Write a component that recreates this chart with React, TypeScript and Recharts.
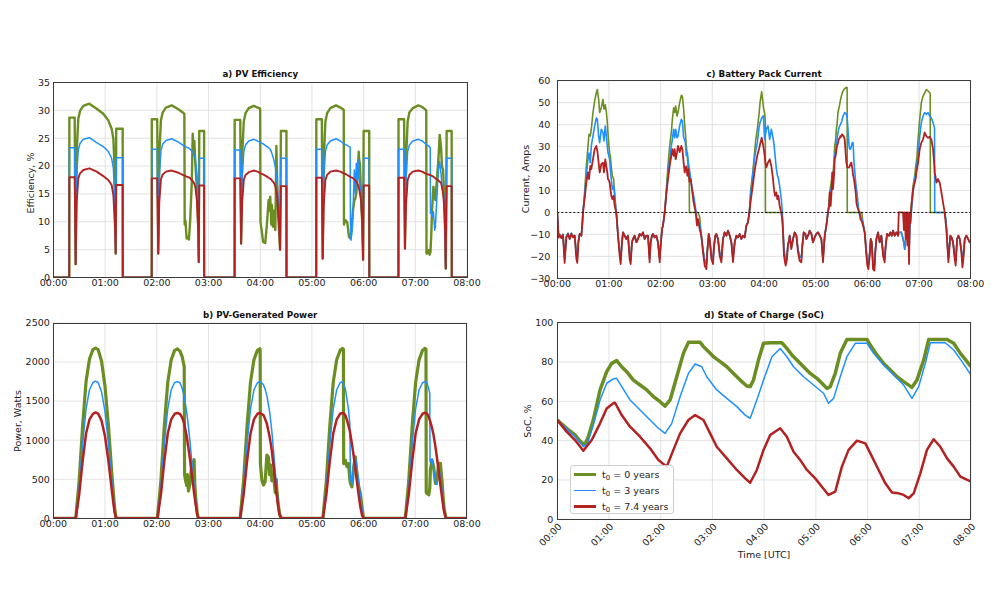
import React from 'react';
import { LineChart, Line, XAxis, YAxis, CartesianGrid, ReferenceLine } from 'recharts';

// ---------- colours / fonts ----------
const GREEN = '#6b8e23';
const BLUE = '#1e90ff';
const RED = '#b22222';
const FONT = '"DejaVu Sans", Verdana, sans-serif';

// ---------- axis ticks ----------
const timeTicks = [0, 60, 120, 180, 240, 300, 360, 420, 480];
const effTicks = [0, 5, 10, 15, 20, 25, 30, 35];
const powTicks = [0, 500, 1000, 1500, 2000, 2500];
const curTicks = [-30, -20, -10, 0, 10, 20, 30, 40, 50, 60];
const socTicks = [0, 20, 40, 60, 80, 100];

const seriesNames = ['t\u2080 = 0 years', 't\u2080 = 3 years', 't\u2080 = 7.4 years'];

// ---------- a) PV efficiency: [minute, t0=0y, t0=3y, t0=7.4y] ----------
const effRows: number[][] = [
  [0, 0, 0, 0], [18.3, 0, 0, 0], [18.4, 28.7, 23.3, 18.0], [24.6, 28.7, 23.3, 18.0],
  [25.7, 2.4, 2.4, 2.4], [26.9, 22.6, 18.4, 13.6], [28.8, 28.5, 22.9, 17.8], [30.8, 29.9, 24.1, 18.7],
  [34.6, 30.8, 24.8, 19.3], [41.6, 31.2, 25.1, 19.6], [50.1, 30.3, 24.2, 19.0], [57.8, 29.4, 23.5, 18.2],
  [63.6, 28.2, 22.6, 17.5], [67.5, 26.7, 21.4, 16.6], [69.5, 24.9, 19.6, 14.8], [71.4, 17.8, 12.0, 8.8],
  [72.2, 4.3, 4.3, 4.3], [72.8, 26.7, 21.5, 16.6], [80.3, 26.7, 21.5, 16.6], [80.4, 0, 0, 0],
  [114.0, 0, 0, 0], [114.1, 28.4, 23.0, 17.8], [120.4, 28.4, 23.0, 17.8], [121.6, 4.3, 4.3, 4.3],
  [122.8, 22.0, 18.0, 13.5], [124.7, 28.2, 22.7, 17.6], [126.7, 29.6, 23.9, 18.5], [130.5, 30.5, 24.6, 19.0],
  [137.2, 30.9, 24.9, 19.2], [145.0, 30.2, 24.3, 18.8], [151.9, 29.4, 23.6, 18.3], [152.3, 9.5, 23.6, 18.3],
  [153.2, 10.2, 23.5, 18.2], [154.5, 7.0, 23.4, 18.1], [156.0, 7.2, 23.3, 18.0], [157.2, 6.8, 23.2, 18.0],
  [158.7, 10.3, 23.0, 17.8], [160.5, 17.0, 22.7, 17.5], [161.6, 25.8, 22.5, 17.3], [162.6, 22.0, 22.2, 17.1],
  [163.5, 24.5, 21.9, 16.8], [164.6, 20.5, 21.3, 16.3], [166.5, 16.0, 18.5, 13.8], [168.0, 9.0, 11.0, 8.5],
  [168.6, 2.8, 2.8, 2.8], [169.2, 26.3, 21.4, 16.5], [174.8, 26.3, 21.4, 16.5], [174.9, 0, 0, 0],
  [210.2, 0, 0, 0], [210.3, 28.3, 22.9, 17.8], [216.8, 28.3, 22.9, 17.8], [217.8, 6.1, 6.1, 6.1],
  [219.0, 22.0, 18.0, 13.5], [220.9, 28.0, 22.6, 17.5], [222.9, 29.5, 23.8, 18.4], [226.7, 30.4, 24.5, 18.9],
  [232.3, 30.8, 24.8, 19.2], [237.0, 30.5, 24.5, 19.0], [239.9, 30.3, 24.2, 18.7], [240.3, 10.0, 24.2, 18.7],
  [241.6, 8.5, 24.1, 18.6], [243.3, 6.4, 24.0, 18.5], [245.8, 6.2, 23.7, 18.3], [247.8, 9.7, 23.5, 18.1],
  [249.7, 13.9, 23.3, 17.9], [250.9, 12.0, 23.1, 17.8], [251.6, 14.5, 23.0, 17.7], [252.8, 9.5, 22.6, 17.6],
  [253.6, 13.0, 22.2, 17.4], [254.7, 9.1, 21.7, 17.2], [256.3, 12.0, 20.8, 16.9], [257.5, 8.5, 19.8, 16.4],
  [258.7, 23.6, 18.4, 15.5], [259.8, 16.3, 16.6, 14.2], [261.0, 10.9, 13.0, 11.5], [262.3, 7.0, 8.5, 7.8],
  [263.0, 5.0, 5.0, 5.0], [264.0, 26.3, 21.4, 16.4], [270.4, 26.3, 21.4, 16.4], [270.5, 0, 0, 0],
  [305.0, 0, 0, 0], [305.1, 28.4, 23.0, 17.9], [311.5, 28.4, 23.0, 17.9], [312.5, 3.4, 3.4, 3.4],
  [313.7, 21.0, 17.5, 13.0], [315.6, 28.0, 22.6, 17.5], [317.6, 29.5, 23.8, 18.4], [321.4, 30.4, 24.5, 19.0],
  [328.0, 30.9, 24.9, 19.2], [333.0, 30.5, 24.5, 19.0], [336.9, 30.1, 24.0, 18.7], [337.2, 9.5, 24.0, 18.7],
  [338.8, 10.3, 23.9, 18.6], [341.0, 9.9, 23.7, 18.4], [343.0, 7.3, 23.5, 18.2], [344.3, 7.1, 23.4, 18.1],
  [344.7, 7.0, 10.0, 18.0], [345.3, 7.5, 6.7, 18.0], [347.0, 10.9, 9.0, 17.9], [347.6, 12.0, 11.5, 17.8],
  [349.2, 13.8, 19.3, 17.6], [350.4, 14.2, 15.0, 17.4], [351.5, 15.1, 20.5, 17.2], [352.7, 17.9, 16.9, 16.9],
  [353.5, 19.5, 21.1, 16.6], [354.3, 22.6, 19.0, 16.2], [354.6, 21.5, 18.1, 16.0], [355.8, 20.2, 16.5, 15.0],
  [357.0, 14.8, 14.5, 13.8], [358.3, 10.0, 9.5, 10.2], [359.4, 3.2, 3.2, 3.2], [360.0, 26.3, 21.4, 16.5],
  [366.5, 26.3, 21.4, 16.5], [366.6, 0, 0, 0], [400.4, 0, 0, 0], [400.5, 28.4, 23.0, 17.9],
  [407.0, 28.4, 23.0, 17.9], [408.0, 5.2, 5.2, 5.2], [409.2, 21.0, 17.5, 13.0], [411.1, 28.0, 22.6, 17.5],
  [413.1, 29.6, 23.8, 18.4], [417.0, 30.4, 24.5, 19.0], [423.5, 30.9, 24.8, 19.2], [428.0, 30.6, 24.5, 19.0],
  [432.7, 30.0, 23.9, 18.6], [433.0, 4.3, 23.8, 18.6], [434.4, 4.4, 23.7, 18.5], [435.5, 4.9, 23.6, 18.5],
  [436.7, 4.1, 23.4, 18.4], [437.3, 4.4, 23.3, 18.4], [437.6, 4.6, 11.5, 18.4], [438.6, 8.0, 11.8, 18.3],
  [439.4, 12.1, 11.0, 18.2], [439.8, 13.0, 10.9, 18.2], [441.0, 16.3, 11.8, 18.1], [442.5, 14.5, 8.5, 17.9],
  [443.3, 13.9, 9.1, 17.8], [445.3, 18.1, 15.1, 17.6], [446.8, 21.1, 19.3, 17.4], [448.3, 25.6, 20.8, 17.2],
  [449.8, 23.5, 18.7, 17.0], [451.0, 19.9, 16.3, 16.2], [452.2, 19.3, 15.5, 15.0], [452.9, 17.0, 15.1, 14.0],
  [453.7, 13.3, 13.0, 12.0], [454.5, 9.0, 10.3, 9.0], [455.3, 1.6, 1.6, 1.6], [456.4, 26.3, 21.4, 16.4],
  [462.2, 26.3, 21.4, 16.4], [462.3, 0, 0, 0], [480, 0, 0, 0],
];

// ---------- b) PV generated power (W) ----------
const powRows: number[][] = [
  [0, 0, 0, 0], [26.0, 0, 0, 0], [30.0, 480, 385, 300], [34.0, 1180, 950, 730], [38.0, 1750, 1400, 1085],
  [42.0, 2040, 1645, 1265], [46.0, 2160, 1738, 1338], [49.0, 2180, 1755, 1355], [52.0, 2160, 1738, 1340],
  [56.0, 2010, 1620, 1250], [60.0, 1690, 1365, 1050], [64.0, 1180, 950, 730], [68.0, 560, 450, 345],
  [71.0, 150, 110, 85], [72.8, 0, 0, 0],
  [120.8, 0, 0, 0], [124.8, 480, 385, 300], [128.8, 1180, 950, 730], [132.8, 1740, 1400, 1085],
  [136.8, 2030, 1645, 1265], [140.8, 2150, 1738, 1338], [144.0, 2168, 1750, 1348], [147.0, 2140, 1735, 1335],
  [149.5, 2070, 1665, 1290], [151.9, 1940, 1560, 1215], [152.3, 560, 1540, 1190], [153.5, 480, 1450, 1120],
  [154.9, 420, 1350, 1040], [155.6, 560, 1290, 990], [156.8, 350, 1170, 900], [158.7, 450, 970, 750],
  [160.7, 700, 730, 565], [161.8, 680, 600, 465], [163.4, 750, 420, 320], [164.2, 420, 330, 255],
  [165.5, 230, 200, 155], [167.0, 70, 60, 45], [168.4, 0, 0, 0],
  [216.8, 0, 0, 0], [220.8, 480, 385, 300], [224.8, 1180, 950, 730], [228.8, 1740, 1400, 1085],
  [232.8, 2030, 1645, 1265], [236.8, 2150, 1735, 1338], [239.5, 2170, 1750, 1348], [240.0, 2160, 1748, 1347],
  [240.3, 700, 1745, 1345], [242.0, 490, 1730, 1335], [243.9, 425, 1710, 1320], [245.8, 470, 1650, 1270],
  [247.8, 810, 1570, 1210], [249.7, 780, 1450, 1110], [250.9, 560, 1370, 1050], [252.4, 680, 1230, 950],
  [253.6, 480, 1110, 860], [255.5, 560, 870, 670], [257.5, 330, 600, 470], [258.7, 500, 450, 350],
  [259.4, 360, 370, 285], [261.0, 180, 190, 150], [262.5, 60, 60, 45], [264.4, 0, 0, 0],
  [312.8, 0, 0, 0], [316.8, 480, 385, 300], [320.8, 1180, 950, 730], [324.8, 1740, 1400, 1085],
  [328.8, 2030, 1645, 1265], [332.8, 2150, 1735, 1338], [335.5, 2175, 1750, 1348], [336.6, 2165, 1730, 1345],
  [336.9, 700, 1710, 1343], [338.8, 745, 1660, 1320], [340.7, 660, 1530, 1260], [342.6, 700, 1380, 1180],
  [344.0, 500, 1220, 1120], [344.8, 447, 520, 1070], [346.5, 404, 430, 950], [348.5, 650, 700, 800],
  [350.4, 787, 790, 640], [352.3, 560, 650, 470], [354.3, 404, 480, 300], [356.2, 320, 300, 150],
  [358.1, 150, 130, 45], [360.0, 0, 0, 0],
  [408.4, 0, 0, 0], [412.4, 480, 385, 300], [416.4, 1180, 950, 730], [420.4, 1740, 1400, 1085],
  [424.4, 2030, 1645, 1265], [428.4, 2150, 1735, 1338], [431.0, 2175, 1750, 1350], [432.4, 2165, 1745, 1348],
  [432.7, 330, 1740, 1346], [433.6, 320, 1730, 1340], [435.6, 300, 1660, 1300], [436.8, 380, 1600, 1255],
  [437.1, 480, 720, 1250], [437.5, 617, 740, 1230], [439.4, 745, 760, 1160], [441.3, 660, 640, 1060],
  [443.3, 447, 470, 920], [445.2, 490, 430, 770], [447.1, 703, 620, 610], [449.1, 703, 560, 430],
  [451.0, 480, 350, 270], [452.5, 250, 200, 150], [453.5, 120, 100, 80], [455.7, 0, 0, 0], [480, 0, 0, 0],
];

// ---------- c) battery pack current (A) ----------
const curRows: number[][] = [
  [0, 0, 0, 0], [1.5, -11, -11, -11.5], [2.7, -10, -10, -10.2], [4.7, -11.5, -11.5, -11.7], [6.6, -10, -10, -10.2],
  [8.5, -21, -21, -23], [10.5, -11, -11, -11.5], [12.4, -9.5, -9.5, -9.8], [14.4, -12, -12, -12.1],
  [16.3, -9.5, -9.5, -9.8], [18.2, -11, -11, -11.4], [20.2, -10.5, -10.5, -10.6], [22.1, -19, -19, -21],
  [23.2, -21, -21, -23], [24.5, -13, -13, -13.6], [26.0, -9.8, -9.8, -9.8], [27.9, -10.6, -10.6, -10.6],
  [29.0, -5.6, -5.6, -5.6], [29.8, 0, 0, 0], [31.7, 9, 7.6, 6], [33.7, 21, 16.7, 13.6], [35.6, 30, 24, 18.2],
  [36.8, 35.6, 27, 15.2], [38.3, 34.8, 22.7, 21.2], [39.5, 37.9, 30.3, 19.7], [41.4, 45.5, 34.8, 24.2],
  [43.4, 50.8, 39.4, 28.8], [45.3, 54.5, 43, 30.3], [46.5, 56, 42.4, 28], [48.0, 51.5, 34.8, 22.7],
  [49.2, 45.5, 31.8, 18.2], [51.1, 47.7, 37.9, 22], [53.0, 51.5, 36.4, 22.7], [54.2, 47, 32.6, 18.2],
  [55.7, 49, 39.4, 24.2], [56.9, 46, 34.8, 21.2], [58.1, 40.9, 30, 18], [58.8, 36, 27.3, 15.2],
  [60.0, 30, 25.5, 14.5], [60.8, 27, 24.2, 13.6], [61.6, 25.8, 20, 11], [62.7, 20.5, 15.2, 7.6],
  [63.9, 16.7, 10.6, 6], [65.4, 15.2, 12.1, 7.6], [66.6, 9.1, 7.6, 3], [67.8, 3, 2, 1], [68.5, 0, 0, 0],
  [70.5, -10.6, -10.6, -10.6], [72.4, -18, -18, -19.7], [73.6, -21.5, -21.5, -23.5], [75.1, -13.6, -13.6, -13.6],
  [76.3, -9.1, -9.1, -9.1], [78.2, -10.6, -10.6, -10.6], [80.1, -12.1, -12.1, -12.1], [82.1, -10.6, -10.6, -10.6],
  [84.0, -19.5, -19.5, -21.2], [85.2, -21.5, -21.5, -23.5], [86.7, -13.6, -13.6, -13.6], [87.9, -12.1, -12.1, -12.1],
  [89.8, -10.6, -10.6, -10.6], [91.8, -13.6, -13.6, -13.6], [93.7, -12.1, -12.1, -12.1], [95.6, -9.8, -9.8, -9.8],
  [97.6, -10.6, -10.6, -10.6], [99.5, -9.1, -9.1, -9.1], [101.4, -12.1, -12.1, -12.1], [103.4, -10.6, -10.6, -10.6],
  [105.3, -10.6, -10.6, -10.6], [107.2, -21, -21, -22.7], [108.4, -13.6, -13.6, -13.6], [109.9, -10.6, -10.6, -10.6],
  [111.1, -9.8, -9.8, -9.8], [113.0, -11.4, -11.4, -11.4], [115.0, -10.6, -10.6, -10.6], [116.9, -13.6, -13.6, -13.6],
  [118.9, -21, -21, -22.7], [120.0, -15.2, -15.2, -15.2], [121.6, -7.6, -7.6, -7.6], [122.7, -6, -6, -6],
  [124.7, 0, 0, 0], [126.6, 10.6, 9, 8.3], [128.5, 21.2, 16.7, 15.2], [130.5, 30.3, 24.2, 21.2],
  [132.4, 36.4, 30.3, 25.8], [133.6, 42.4, 33.3, 28.8], [135.1, 47.7, 37.9, 25.8], [136.3, 45.5, 34, 28.8],
  [137.4, 48.5, 37.9, 24.2], [139.0, 43.9, 34, 27.3], [140.1, 45.5, 34.8, 30.3], [142.1, 50, 39.4, 27.5],
  [144.0, 53.3, 42.4, 30.3], [145.2, 53, 41.7, 28.8], [146.7, 47, 34, 22.7], [147.9, 40, 33, 18.2],
  [148.7, 36.4, 31.8, 20], [149.8, 30.3, 25.8, 21], [151.0, 25.8, 27.3, 16.7], [152.1, 19.7, 22.7, 19.7],
  [153.2, 17, 20.5, 15], [153.4, 0, 19.7, 14], [154.9, 0, 15.2, 15.2], [156.8, 0, 10.6, 9.1],
  [158.3, 0, 7.6, 4.5], [160.7, 0, 1.5, 0], [162.2, 0, -3, -6], [163.4, 0, -4.5, -3], [165.3, -2, -5, -7.6],
  [167.2, -10.6, -10.6, -10.6], [169.2, -17, -17, -18.2], [171.1, -22, -22, -24.2], [173.1, -23.5, -23.5, -25.8],
  [174.2, -17, -17, -18.2], [175.8, -9.8, -9.8, -9.8], [176.9, -12.1, -12.1, -12.1], [178.9, -19.5, -19.5, -21.2],
  [180.8, -21.5, -21.5, -23.5], [182.0, -15.2, -15.2, -15.2], [183.5, -10.6, -10.6, -10.6], [184.7, -9.8, -9.8, -9.8],
  [186.6, -12.1, -12.1, -12.1], [188.5, -18, -18, -19.7], [190.5, -21, -21, -22.7], [192.4, -12.1, -12.1, -12.1],
  [194.3, -9.1, -9.1, -9.1], [196.3, -10.6, -10.6, -10.6], [198.2, -8.3, -8.3, -8.3], [200.2, -10.6, -10.6, -10.6],
  [202.1, -13.6, -13.6, -13.6], [204.0, -21, -21, -22.7], [206.0, -13.6, -13.6, -13.6], [207.9, -10.6, -10.6, -10.6],
  [209.8, -11.4, -11.4, -11.4], [211.8, -9.8, -9.8, -9.8], [213.7, -12.1, -12.1, -12.1], [215.6, -10.6, -10.6, -10.6],
  [217.6, -11.4, -11.4, -11.4], [219.5, -6, -6, -6], [221.4, -4.5, -4.5, -4.5], [223.0, 0, 0, 0],
  [224.5, 10, 8, 5], [226.9, 18, 17, 12], [228.8, 26, 24, 18], [230.4, 33, 28, 22], [232.3, 38, 32, 26],
  [234.3, 45, 39, 29], [235.4, 50, 41, 31], [237.3, 55, 43, 34], [239.3, 48, 44, 30], [240.8, 45, 33.3, 25.8],
  [241.5, 42, 35, 23], [241.7, 0, 35.5, 22.5], [242.7, 0, 37.9, 20.5], [244.6, 0, 39.4, 22.7], [246.6, 0, 33.3, 24.2],
  [248.5, 0, 37.9, 21.2], [250.5, 0, 34, 15.2], [251.6, 0, 31, 10.6], [252.8, 0, 26, 7.6], [254.3, 0, 20, 9.1],
  [255.5, 0, 17, 6], [256.7, 0, 15.5, 7.6], [258.2, 0, 12, 3], [259.3, 0, 8.5, 1], [260.1, 0, 6, 0],
  [261.3, -2, 0, -4], [262.1, -9, -8, -9.1], [263.2, -18, -16, -19.7], [264.4, -21, -20, -22.7],
  [265.2, -22, -22, -24.2], [266.7, -19.5, -19.5, -21.2], [267.9, -14.4, -14.4, -14.4], [269.0, -13, -13, -13],
  [269.8, -10.6, -10.6, -10.6], [271.7, -16, -16, -16.7], [273.7, -12.1, -12.1, -12.1], [275.6, -9.1, -9.1, -9.1],
  [277.6, -10.6, -10.6, -10.6], [279.5, -17, -17, -18.2], [281.4, -20, -20, -22], [283.4, -20.5, -20.5, -22.7],
  [284.5, -15.2, -15.2, -15.2], [286.1, -9.1, -9.1, -9.1], [288.0, -9.8, -9.8, -9.8], [289.2, -12.1, -12.1, -12.1],
  [291.1, -10.6, -10.6, -10.6], [293.0, -8.3, -8.3, -8.3], [295.0, -9.8, -9.8, -9.8], [296.9, -13.6, -13.6, -13.6],
  [298.8, -11.4, -11.4, -11.4], [300.8, -9.8, -9.8, -9.8], [302.7, -9.1, -9.1, -9.1], [304.7, -10.6, -10.6, -10.6],
  [306.6, -12.1, -12.1, -12.1], [308.5, -21, -21, -22.7], [310.5, -10.6, -10.6, -10.6], [312.4, -6, -6, -6],
  [314.3, 0, 0, 0], [315.5, 4, 3, 3], [316.3, 9, 6, 9.1], [317.4, 12.1, 9, 3], [318.6, 15.2, 12.1, 10.6],
  [319.4, 18.2, 14, 18.2], [320.1, 17, 15, 10.6], [321.3, 24, 21, 16.7], [322.1, 30.3, 25.8, 24.2],
  [323.2, 33, 28, 25.8], [324.0, 37.9, 31.8, 28], [324.8, 40, 33.5, 30.3], [325.9, 45.5, 36.4, 31.5],
  [326.7, 47, 38, 33.3], [327.9, 49.2, 39.4, 33.8], [328.7, 51, 40, 34.8], [329.8, 53, 40.9, 34.5],
  [330.6, 54, 42, 35.6], [331.8, 55.3, 43.9, 35], [332.5, 55.8, 44.5, 34.8], [333.7, 56.4, 45.5, 33.3],
  [335.6, 57, 44.7, 22.7], [336.5, 56.8, 43, 21], [336.7, 0, 42.5, 20.5], [338.7, 0, 30.3, 20.5],
  [339.5, 0, 29, 21], [340.3, 0, 28.8, 22], [341.4, 0, 30.3, 22.7], [342.6, 0, 31.8, 20], [343.4, 0, 31.8, 17],
  [344.5, 0, 22.7, 15.2], [346.5, 0, 13.6, 9.1], [347.3, 0, 11, 4.5], [348.4, 0, 7.6, 2.5], [350.0, 0, 0.8, 0.8],
  [351.1, 0, -1.5, 0], [351.9, 0, -1.5, -3], [353.5, 0, -3, -4], [355.0, -5, -4.5, -6], [356.9, -9.1, -9.1, -9.1],
  [358.9, -18, -18, -19.7], [360.0, -22, -22, -24.2], [361.2, -23.5, -23.5, -25.8], [362.8, -18, -18, -19.7],
  [363.9, -12.1, -12.1, -12.1], [365.1, -13.6, -13.6, -13.6], [366.6, -23.5, -23.5, -25.8], [368.2, -24, -24, -26.5],
  [369.3, -17, -17, -18.2], [370.5, -12.1, -12.1, -12.1], [372.4, -9.1, -9.1, -9.1], [374.3, -13.6, -13.6, -13.6],
  [376.3, -10.6, -10.6, -10.6], [378.2, -18, -18, -19.7], [380.1, -21, -21, -22.7], [381.3, -15.2, -15.2, -15.2],
  [382.9, -9.8, -9.8, -9.8], [385.2, -10.6, -10.6, -10.6], [386.7, -9.1, -9.1, -9.1], [388.3, -10.6, -10.6, -10.6],
  [389.8, -8.3, -8.3, -8.3], [391.8, -10.6, -10.6, -10.6], [393.7, -9.1, -9.1, -9.1], [395.6, -10.6, -10.6, -10.6],
  [396.5, -9.5, -9.5, 0], [397.6, -9, -9, 0], [399.5, -9.1, -9.1, 0], [401.4, -12, -12, 0], [402.5, -14, -14, -8],
  [403.4, -16.7, -16.7, 0], [404.5, -12, -12, -12], [405.3, -10.6, -10.6, 0], [406.5, -9, -9, -15],
  [407.2, -8.3, -8.3, 0], [408.4, -18, -18, -23.5], [409.3, -7, -7, 0], [410.0, -4, -4, -5], [411.1, 3, 0, 3],
  [413.1, 12.1, 9.1, 10.6], [415.0, 16.7, 15.2, 13.6], [416.2, 21.2, 17.5, 15.5], [416.9, 23, 19.7, 18.2],
  [417.7, 25.8, 22, 20], [418.9, 33.3, 25.8, 22.7], [420.8, 42.4, 34.8, 28.8], [422.7, 50, 40.9, 31.8],
  [424.7, 53, 43.9, 33.3], [426.6, 54.5, 45.5, 36.4], [428.5, 56, 44.7, 34.8], [430.5, 55.3, 45.5, 34],
  [432.4, 54.5, 43.9, 34.5], [433.0, 54, 43.9, 34], [433.2, 0, 43.5, 33.8], [434.3, 0, 43, 33.3],
  [436.3, 0, 40.9, 28.8], [438.0, 0, 38.5, 20], [438.2, 0, 0, 18], [439.0, 0, 0, 16.7], [440.2, 0, 0, 13.6],
  [442.1, 0, 0, 15.2], [444.0, 0, 0, 13.6], [446.0, 0, 0, 9.1], [447.9, 0, 0, 4.5], [449.8, 0, 0, 0],
  [451.0, -3, -3, -5], [451.8, -7, -7, -7.6], [452.9, -14, -14, -15.2], [454.1, -21, -21, -22.7],
  [454.9, -17, -17, -18.2], [456.4, -10.6, -10.6, -10.6], [457.9, -11.4, -11.4, -11.4], [459.5, -13.6, -13.6, -13.6],
  [461.4, -19.5, -19.5, -21.2], [462.6, -22, -22, -24.2], [464.2, -12.1, -12.1, -12.1], [465.7, -10.6, -10.6, -10.6],
  [467.3, -12.1, -12.1, -12.1], [469.2, -17, -17, -18.2], [470.4, -22.5, -22.5, -25], [471.5, -19.5, -19.5, -21.2],
  [473.1, -12.1, -12.1, -12.1], [475.0, -10.6, -10.6, -10.6], [477.0, -12.1, -12.1, -12.1], [478.9, -13.6, -13.6, -13.6],
  [480.0, -12.9, -12.9, -12.9],
];

// ---------- d) state of charge (%) : [minute, value] per series ----------
const socGreen: number[][] = [
  [0, 50.5], [10.8, 46.3], [20.5, 42.9], [27, 39.5], [30.2, 38.3], [33, 39], [36, 42], [41.8, 50.5], [49.6, 65.8],
  [57.3, 75.1], [63.1, 79.3], [68.9, 80.7], [74.7, 77.6], [80.5, 75.1], [88.3, 70.8], [96, 68.3], [103.8, 65.8],
  [111.5, 62.4], [119.2, 59.8], [125, 57.6], [130.9, 60.7], [138.6, 72.5], [146.3, 84.4], [152.1, 90], [165.7, 90],
  [169.6, 87.8], [175.4, 85.3], [181.2, 82.7], [188.9, 80.2], [196.7, 77.6], [204.4, 74.2], [212.2, 70.8],
  [219.9, 67.8], [223.8, 67.5], [227.6, 70.8], [233.4, 81], [239.3, 89.5], [247, 89.8], [260.5, 89.8],
  [266.4, 86.9], [272.2, 83.6], [278, 81], [285.7, 77.6], [293.5, 74.2], [301.2, 71.7], [307, 69.2], [312.8, 66.6],
  [316.7, 67.5], [322.5, 74.2], [328.3, 84.4], [336, 91.5], [359.3, 91.5], [363.1, 88.6], [370.9, 83.6],
  [378.6, 79.3], [386.4, 75.9], [394.1, 72.5], [401.9, 70], [411.5, 67.1], [417.3, 70.8], [425.1, 81],
  [430.9, 91.5], [452.2, 91.5], [459.9, 89.5], [467.7, 84.4], [475.4, 80.2], [480, 77.6],
];
const socBlue: number[][] = [
  [0, 50.5], [10.8, 46], [20.5, 42], [30.2, 37], [35, 38.5], [41.8, 48], [49.6, 60.7], [57.3, 69.2], [65, 71.4],
  [68.9, 71.7], [74.7, 67.5], [84.4, 60.7], [96, 55.6], [107.6, 50.5], [117.3, 46.3], [125, 43.7], [132.8, 48.8],
  [142.5, 62.4], [152.1, 74.2], [159.9, 79], [167.6, 77.6], [173.4, 72.5], [185, 65.8], [196.7, 61.5],
  [208.3, 57.3], [218, 53], [223.8, 51.4], [231.5, 60.7], [239.3, 70.8], [249, 82.7], [258.6, 86.9],
  [266.4, 82.7], [274.1, 77.6], [285.7, 72.5], [297.3, 68.3], [308.9, 64.1], [314.7, 59], [320.6, 61.5],
  [328.3, 72.5], [336, 82.7], [345.7, 89.5], [359.3, 89.5], [367, 84.4], [378.6, 78.5], [390.2, 73.4],
  [401.9, 68.3], [411.5, 61.5], [419.3, 67.5], [427, 79.3], [432.8, 89.8], [450.2, 89.8], [459.9, 86.1],
  [469.6, 80.2], [480, 73.4],
];
const socRed: number[][] = [
  [0, 50.5], [10.8, 44.6], [20.5, 40.3], [30.2, 34.9], [39.9, 40.3], [49.6, 48.8], [57.3, 56.4], [65, 59],
  [67, 59.3], [74.7, 53], [84.4, 47.1], [96, 42], [107.6, 36.1], [117.3, 30.2], [127, 26.8], [134.7, 35.3],
  [142.5, 43.7], [152.1, 50.5], [159.9, 53], [169.6, 50.5], [177.3, 43.7], [185, 36.9], [196.7, 31],
  [208.3, 25.1], [218, 20.8], [223.8, 18.6], [231.5, 25.1], [239.3, 35.3], [247, 42.9], [258.6, 46.3],
  [266.4, 42], [274.1, 34.4], [281.8, 30.2], [289.6, 25.1], [299.3, 20.8], [307, 16.6], [314.7, 12.4],
  [322.5, 14.1], [330.2, 26.8], [338, 35.3], [347.7, 40], [357.4, 38.6], [365.1, 31.9], [372.8, 25.1],
  [380.6, 18.3], [388.3, 13.6], [396, 13.2], [401.9, 12.4], [407.7, 10.7], [413.5, 13.2], [421.2, 23.4],
  [428.9, 35.3], [436.7, 40.7], [444.4, 36.9], [452.2, 31], [459.9, 26.8], [467.7, 21.7], [480, 19.2],
];

// ---------- helpers ----------
const toRows = (rows: number[][]) => rows.map((r) => ({ t: r[0], g: r[1], b: r[2], r: r[3] }));
const toPts = (rows: number[][]) => rows.map((r) => ({ t: r[0], v: r[1] }));
const fmtTime = (m: number) => `${String(Math.floor(m / 60)).padStart(2, '0')}:00`;
const fmtNum = (v: number) => (v < 0 ? `\u2212${Math.abs(v)}` : String(v));

const TICK_STYLE = { fontSize: 9.5, fill: '#222', fontFamily: FONT };

type Rect = { l: number; t: number; r: number; b: number };
type LineSpec = { key: string; color: string; width: number; data?: any[] };

const RotTick = (props: any) => {
  const { x, y, payload } = props;
  const ax = x + 5;
  const ay = y + 8;
  return (
    <text x={ax} y={ay} transform={`rotate(-45 ${ax} ${ay})`} textAnchor="end" fontSize={9.5} fill="#222" fontFamily={FONT}>
      {fmtTime(payload.value)}
    </text>
  );
};

function Panel(props: {
  box: { left: number; top: number; width: number; height: number };
  plot: Rect;
  data?: any[];
  yDomain: [number, number];
  yTicks: number[];
  lines: LineSpec[];
  yGap: number;
  rotated?: boolean;
  zeroLine?: boolean;
}) {
  const { box, plot, data, yDomain, yTicks, lines, yGap, rotated, zeroLine } = props;
  return (
    <div style={{ position: 'absolute', left: box.left, top: box.top, width: box.width, height: box.height }}>
      <LineChart
        width={box.width}
        height={box.height}
        data={data}
        margin={{ top: plot.t - box.top, right: box.left + box.width - plot.r, bottom: 0, left: 0 }}
      >
        <CartesianGrid stroke="#dcdcdc" strokeWidth={0.8} />
        <XAxis
          dataKey="t"
          type="number"
          domain={[0, 480]}
          ticks={timeTicks}
          interval={0}
          tickFormatter={fmtTime}
          height={box.top + box.height - plot.b}
          axisLine={false}
          tickLine={false}
          tickSize={0}
          tickMargin={rotated ? 0 : 2}
          tick={rotated ? <RotTick /> : TICK_STYLE}
          allowDataOverflow
        />
        <YAxis
          type="number"
          domain={yDomain}
          ticks={yTicks}
          interval={0}
          tickFormatter={fmtNum}
          width={plot.l - box.left}
          axisLine={false}
          tickLine={false}
          tickSize={0}
          tickMargin={yGap}
          tick={TICK_STYLE}
          allowDataOverflow
        />
        {lines.map((ln) => (
          <Line
            key={ln.key + ln.color}
            data={ln.data}
            dataKey={ln.key}
            type="linear"
            stroke={ln.color}
            strokeWidth={ln.width}
            dot={false}
            activeDot={false}
            isAnimationActive={false}
            strokeLinejoin="round"
          />
        ))}
        {zeroLine && <ReferenceLine y={0} stroke="#111" strokeWidth={1.1} strokeDasharray="2 2" />}
      </LineChart>
    </div>
  );
}

const Frame = ({ p }: { p: Rect }) => (
  <div
    style={{
      position: 'absolute',
      left: p.l - 0.5,
      top: p.t - 0.5,
      width: p.r - p.l + 1,
      height: p.b - p.t + 1,
      border: '1px solid #3c3c3c',
      boxSizing: 'border-box',
      pointerEvents: 'none',
    }}
  />
);

const Title = ({ p, y, text }: { p: Rect; y: number; text: string }) => (
  <div
    style={{
      position: 'absolute',
      left: p.l,
      width: p.r - p.l,
      top: y - 6,
      height: 12,
      lineHeight: '12px',
      textAlign: 'center',
      fontFamily: FONT,
      fontWeight: 'bold',
      fontSize: 8.7,
      color: '#111',
      whiteSpace: 'nowrap',
    }}
  >
    {text}
  </div>
);

const YLabel = ({ x, y, text }: { x: number; y: number; text: string }) => (
  <div
    style={{
      position: 'absolute',
      left: x,
      top: y,
      transform: 'translate(-50%, -50%) rotate(-90deg)',
      fontFamily: FONT,
      fontSize: 9.5,
      color: '#222',
      whiteSpace: 'nowrap',
      lineHeight: '12px',
    }}
  >
    {text}
  </div>
);

export default function App() {
  const pa: Rect = { l: 53.5, t: 82.5, r: 467, b: 277.5 };
  const pb: Rect = { l: 53.3, t: 323, r: 467, b: 518.3 };
  const pc: Rect = { l: 557.3, t: 80.7, r: 970.7, b: 278.3 };
  const pd: Rect = { l: 557.3, t: 322.7, r: 971, b: 519.3 };

  const effData = toRows(effRows);
  const powData = toRows(powRows);
  const curData = toRows(curRows);

  const legendItems = [
    { name: seriesNames[0], color: GREEN, w: 3.5 },
    { name: seriesNames[1], color: BLUE, w: 1.6 },
    { name: seriesNames[2], color: RED, w: 2.5 },
  ];

  return (
    <div style={{ position: 'absolute', left: 0, top: 0, width: 1000, height: 611, background: '#fff', overflow: 'hidden' }}>
      <Panel
        box={{ left: 0, top: 60, width: 495, height: 240 }}
        plot={pa}
        data={effData}
        yDomain={[0, 35]}
        yTicks={effTicks}
        yGap={3.5}
        lines={[
          { key: 'g', color: GREEN, width: 2.4 },
          { key: 'b', color: BLUE, width: 1.5 },
          { key: 'r', color: RED, width: 1.9 },
        ]}
      />
      <Panel
        box={{ left: 0, top: 300, width: 495, height: 240 }}
        plot={pb}
        data={powData}
        yDomain={[0, 2500]}
        yTicks={powTicks}
        yGap={3.5}
        lines={[
          { key: 'g', color: GREEN, width: 3.2 },
          { key: 'b', color: BLUE, width: 1.5 },
          { key: 'r', color: RED, width: 2.5 },
        ]}
      />
      <Panel
        box={{ left: 500, top: 60, width: 500, height: 240 }}
        plot={pc}
        data={curData}
        yDomain={[-30, 60]}
        yTicks={curTicks}
        yGap={7}
        zeroLine
        lines={[
          { key: 'g', color: GREEN, width: 1.6 },
          { key: 'b', color: BLUE, width: 1.6 },
          { key: 'r', color: RED, width: 1.8 },
        ]}
      />
      <Panel
        box={{ left: 500, top: 300, width: 500, height: 300 }}
        plot={pd}
        yDomain={[0, 100]}
        yTicks={socTicks}
        yGap={4}
        rotated
        lines={[
          { key: 'v', color: GREEN, width: 3.5, data: toPts(socGreen) },
          { key: 'v', color: BLUE, width: 1.5, data: toPts(socBlue) },
          { key: 'v', color: RED, width: 2.5, data: toPts(socRed) },
        ]}
      />

      <Frame p={pa} />
      <Frame p={pb} />
      <Frame p={pc} />
      <Frame p={pd} />

      <Title p={pa} y={74} text="a) PV Efficiency" />
      <Title p={pb} y={315} text="b) PV-Generated Power" />
      <Title p={pc} y={74} text="c) Battery Pack Current" />
      <Title p={pd} y={315} text="d) State of Charge (SoC)" />

      <YLabel x={31} y={183} text="Efficiency, %" />
      <YLabel x={18} y={421} text="Power, Watts" />
      <YLabel x={526} y={179} text="Current, Amps" />
      <YLabel x={528} y={421} text="SoC, %" />

      <div
        style={{
          position: 'absolute',
          left: 664,
          width: 200,
          top: 549,
          textAlign: 'center',
          fontFamily: FONT,
          fontSize: 9.5,
          color: '#222',
          lineHeight: '12px',
        }}
      >
        Time [UTC]
      </div>

      <div
        style={{
          position: 'absolute',
          left: 570,
          top: 464.5,
          width: 104,
          height: 49,
          border: '1px solid #cfcfcf',
          borderRadius: 3,
          background: 'rgba(255,255,255,0.85)',
          boxSizing: 'border-box',
          fontFamily: FONT,
          fontSize: 9.5,
          color: '#222',
        }}
      >
        {legendItems.map((it, i) => (
          <div key={i} style={{ position: 'absolute', left: 0, top: 2 + i * 16, height: 14, width: 104 }}>
            <div
              style={{
                position: 'absolute',
                left: 2.5,
                top: 7 - it.w / 2,
                width: 22,
                height: it.w,
                background: it.color,
              }}
            />
            <div style={{ position: 'absolute', left: 31, top: 0, lineHeight: '14px', whiteSpace: 'nowrap' }}>
              t<sub style={{ fontSize: 7, verticalAlign: '-2px' }}>0</sub>
              {it.name.slice(2)}
            </div>
          </div>
        ))}
      </div>
    </div>
  );
}
